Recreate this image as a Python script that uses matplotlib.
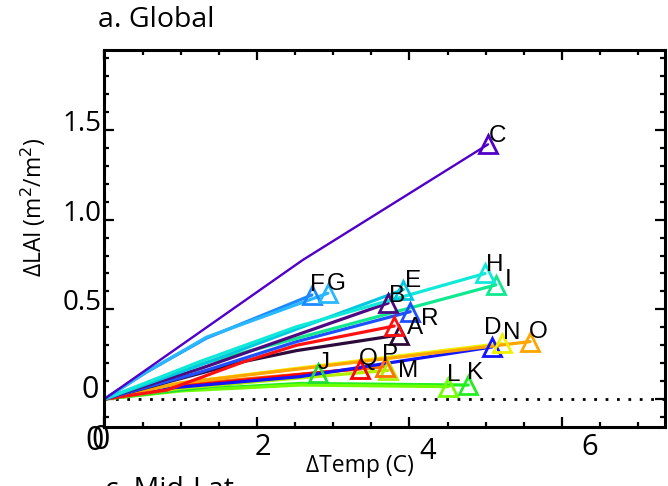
import matplotlib
matplotlib.use("Agg")
import matplotlib.pyplot as plt
import matplotlib.transforms as mtransforms
from matplotlib.ticker import MultipleLocator

# ---- model trajectories: global warming (C) vs. change in LAI (m2/m2) ----
models = ["A", "B", "C", "D", "E", "F", "G", "H", "I",
          "J", "K", "L", "M", "N", "O", "P", "Q", "R", "S"]

dtemp = {
    "A": [0, 1.84, 2.52, 3.86],
    "B": [0, 1.26, 2.52, 3.72],
    "C": [0, 2.60, 5.03],
    "D": [0, 0.82, 2.57, 5.08],
    "E": [0, 1.26, 2.52, 3.92],
    "F": [0, 0.55, 1.34, 2.72],
    "G": [0, 0.55, 1.34, 2.93],
    "H": [0, 1.26, 2.52, 4.99],
    "I": [0, 1.26, 2.52, 5.13],
    "J": [0, 1.40, 2.80],
    "K": [0, 1.00, 2.57, 4.77],
    "L": [0, 1.00, 2.57, 4.51],
    "M": [0, 1.00, 3.72],
    "N": [0, 1.00, 2.50, 5.21],
    "O": [0, 1.00, 2.50, 5.58],
    "P": [0, 1.00, 3.68],
    "Q": [0, 1.00, 3.35],
    "R": [0, 1.26, 2.52, 4.01],
    "S": [0, 0.82, 1.84, 2.52, 3.80],
}
dlai = {
    "A": [0, 0.21, 0.27, 0.357],
    "B": [0, 0.17, 0.357, 0.535],
    "C": [0, 0.775, 1.42],
    "D": [0, 0.06, 0.125, 0.29],
    "E": [0, 0.19, 0.39, 0.61],
    "F": [0, 0.15, 0.34, 0.58],
    "G": [0, 0.15, 0.345, 0.59],
    "H": [0, 0.21, 0.403, 0.70],
    "I": [0, 0.195, 0.338, 0.636],
    "J": [0, 0.07, 0.143],
    "K": [0, 0.05, 0.087, 0.078],
    "L": [0, 0.045, 0.078, 0.069],
    "M": [0, 0.06, 0.16],
    "N": [0, 0.09, 0.17, 0.31],
    "O": [0, 0.09, 0.165, 0.32],
    "P": [0, 0.08, 0.18],
    "Q": [0, 0.07, 0.17],
    "R": [0, 0.15, 0.32, 0.487],
    "S": [0, 0.05, 0.21, 0.30, 0.407],
}
colors = {
    "A": "#2d0a3a", "B": "#4b0a82", "C": "#5000c8", "D": "#1414ff",
    "E": "#00c8e0", "F": "#1e88ff", "G": "#28b8ff", "H": "#10e8d8",
    "I": "#10e890", "J": "#22dd33", "K": "#22ee22", "L": "#70ff00",
    "M": "#b0f000", "N": "#f0f000", "O": "#ffa500", "P": "#ff7000",
    "Q": "#ff0000", "R": "#1e50ff", "S": "#ff1010",
}
# shown name of each endpoint (S carries no letter)
point_text = {m: m for m in models}
point_text["S"] = ""
# where each letter sits relative to its triangle (pixels: right, up)
text_shift = {
    "A": (16, 7), "B": (9, 7), "C": (9, 8), "D": (1, 19), "E": (10, 9),
    "F": (6, 10), "G": (8, 9), "H": (10, 8), "I": (12, 5), "J": (6, 10),
    "K": (7, 12), "L": (5, 12), "M": (20, -1), "N": (10, 10), "O": (8, 10),
    "P": (5, 12), "Q": (8, 10), "R": (19, -7), "S": (0, 0),
}

x_ticks = [0, 2, 4, 6]
x_ticklabels = ["0", "2", "4", "6"]
y_ticks = [0, 0.5, 1.0, 1.5]
y_ticklabels = ["0", "0.5", "1.0", "1.5"]

W, H = 668, 486
fig = plt.figure(figsize=(W / 100, H / 100), dpi=100)
ax = fig.add_axes([104.4 / W, 59 / H, (665 - 104.4) / W, (427 - 50) / H])
ax.set_xlim(0, 7.35)
ax.set_ylim(-0.156, 1.946)

ui = "Open Sans"
letters = "Liberation Sans"
PT = 0.72  # points per pixel at 100 dpi

# zero reference line
ax.axhline(0, color="black", lw=2.0, linestyle=(0, (1, 3.1)), zorder=1)

draw_order = ["K", "L", "J", "M", "P", "Q", "D", "N", "O", "A", "S", "R",
              "I", "B", "E", "H", "F", "G", "C"]
for m in draw_order:
    c = colors[m]
    lw = 1.7 if m == "C" else 2.3
    ax.plot(dtemp[m], dlai[m], color=c, lw=lw, solid_capstyle="round",
            solid_joinstyle="round", zorder=2)
for m in draw_order:
    ax.plot(dtemp[m][-1], dlai[m][-1], marker="^", ms=12.5, mfc="none",
            mec=colors[m], mew=2.0, zorder=3)
for m in models:
    if point_text[m]:
        dx, dy = text_shift[m]
        ax.annotate(point_text[m], (dtemp[m][-1], dlai[m][-1]),
                    xytext=(dx * PT, dy * PT), textcoords="offset points",
                    ha="center", va="center", fontsize=17.5, family=letters,
                    color="black", zorder=4)

# frame and ticks
for s in ax.spines.values():
    s.set_linewidth(2.2)
ax.xaxis.set_major_locator(MultipleLocator(2))
ax.xaxis.set_minor_locator(MultipleLocator(0.5))
ax.yaxis.set_major_locator(MultipleLocator(0.5))
ax.yaxis.set_minor_locator(MultipleLocator(0.1))
ax.tick_params(which="both", direction="in", top=True, right=True,
               labelbottom=False, labelleft=False, width=1.6)
ax.tick_params(which="major", length=7.5)
ax.tick_params(which="minor", length=3.8)

# tick labels
xlab_shift = [(-4, -13), (6, -20), (18, -24), (28, -20)]
bx = mtransforms.blended_transform_factory(ax.transData, ax.transAxes)
for v, t, (dx, dy) in zip(x_ticks, x_ticklabels, xlab_shift):
    tr = bx + mtransforms.ScaledTranslation(dx / 100, dy / 100, fig.dpi_scale_trans)
    ax.text(v, 0, t, transform=tr, ha="center", va="center",
            fontsize=21 if t != "0" else 23, family=ui)
tr0 = bx + mtransforms.ScaledTranslation(-10 / 100, -14 / 100, fig.dpi_scale_trans)
ax.text(0, 0, "0", transform=tr0, ha="center", va="center", fontsize=23, family=ui)

by = mtransforms.blended_transform_factory(ax.transAxes, ax.transData)
for v, t in zip(y_ticks, y_ticklabels):
    up = 9 if t == "0" else 6
    right = -6 if t == "0" else -3
    tr = by + mtransforms.ScaledTranslation(right / 100, up / 100, fig.dpi_scale_trans)
    ax.text(0, v, t, transform=tr, ha="right", va="center",
            fontsize=22 if t == "0" else 20, family=ui)

# titles and axis names
fig.text(98 / W, 1 - 20 / H, "a. Global", ha="left", va="center",
         fontsize=20.5, family=ui)
fig.text(360 / W, 1 - 466 / H, "\u0394Temp (C)", ha="center", va="center",
         fontsize=16.5, family=ui)
fig.text(33 / W, 1 - 207 / H, "\u0394LAI (m$^2$/m$^2$)", ha="center", va="center",
         rotation=90, fontsize=16.5, family=ui)
fig.text(105 / W, 1 - 476 / H, "c. Mid-Lat", ha="left", va="top",
         fontsize=20.5, family=ui)

fig.savefig("out.png", dpi=100)
